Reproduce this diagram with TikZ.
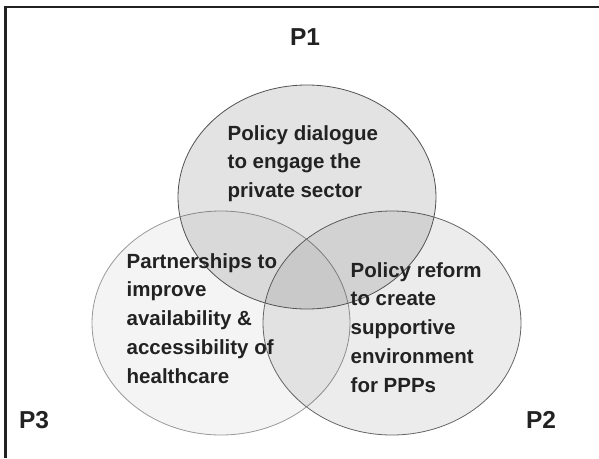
\documentclass[tikz,border=0pt]{standalone}
\usepackage{fontspec}
\setmainfont{Liberation Sans}
\usepackage{xcolor}
\usepackage{tikz}
\usetikzlibrary{positioning, shapes.geometric}
\definecolor{ink}{HTML}{222222}

\begin{document}
\begin{tikzpicture}[
    x=1pt, y=-1pt,
    every node/.style={text=ink},
    blob/.style={ellipse, draw, line width=0.8pt, inner sep=0pt,
                 minimum width=258pt, minimum height=224pt, fill=black},
    blurb/.style={inner sep=0pt, anchor=north west, align=left,
                  font=\fontsize{20.5}{28.8}\selectfont\bfseries},
    pname/.style={inner sep=0pt, font=\fontsize{24.5}{28}\selectfont\bfseries},
]
\useasboundingbox (0,0) rectangle (599,458);
\draw[line width=2.5pt, ink] (5.5,458) -- (5.5,7) -- (599,7);

% the three circles, back to front
\node[blob, fill opacity=0.045, draw=black!40] (pthree) at (221,323) {};
\node[blob, fill opacity=0.075, draw=black!60] (ptwo) at (392,323) {};
\node[blob, fill opacity=0.11, draw=black!68] (pone) at (307,197) {};

\node[blurb] (dialogue) at (227.5,125) {Policy dialogue\\to engage the\\private sector};
\node[blurb] (partner) at (126.5,253) {Partnerships to\\improve\\availability \&\\accessibility of\\healthcare};
\node[blurb] (reform) at (350.5,262) {Policy reform\\to create\\supportive\\environment\\for PPPs};

\node[pname] (lone) at (305,37) {P1};
\node[pname] (ltwo) at (541,420) {P2};
\node[pname] (lthree) at (34,420) {P3};
\end{tikzpicture}
\end{document}
